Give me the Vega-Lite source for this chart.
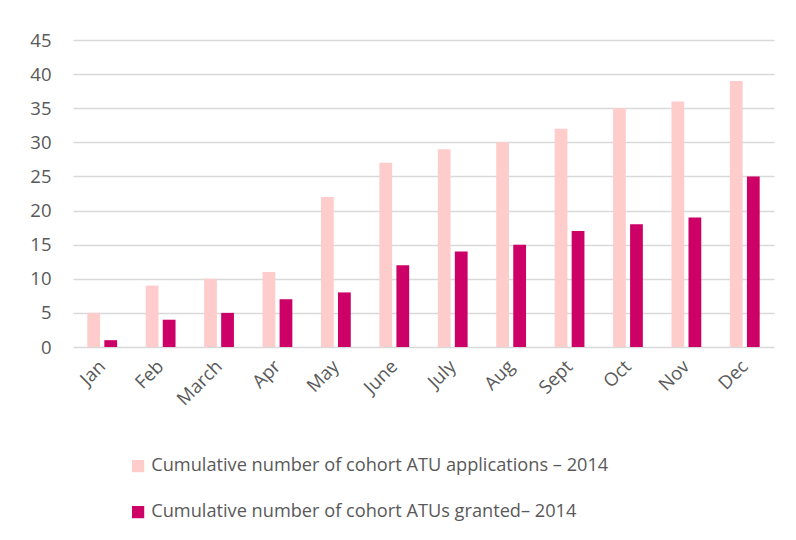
{
  "$schema": "https://vega.github.io/schema/vega-lite/v6.json",
  "width": 701,
  "height": 307,
  "autosize": {"type": "none"},
  "padding": {"left": 73, "top": 40, "right": 22, "bottom": 193},
  "background": "white",
  "config": {
    "view": {"stroke": null},
    "font": "Open Sans",
    "axis": {"labelFont": "Open Sans", "labelColor": "#595959", "labelFontSize": 18.5}
  },
  "data": {
    "values": [
      {"month": "Jan", "series": "Cumulative number of cohort ATU applications – 2014", "value": 5},
      {"month": "Feb", "series": "Cumulative number of cohort ATU applications – 2014", "value": 9},
      {"month": "March", "series": "Cumulative number of cohort ATU applications – 2014", "value": 10},
      {"month": "Apr", "series": "Cumulative number of cohort ATU applications – 2014", "value": 11},
      {"month": "May", "series": "Cumulative number of cohort ATU applications – 2014", "value": 22},
      {"month": "June", "series": "Cumulative number of cohort ATU applications – 2014", "value": 27},
      {"month": "July", "series": "Cumulative number of cohort ATU applications – 2014", "value": 29},
      {"month": "Aug", "series": "Cumulative number of cohort ATU applications – 2014", "value": 30},
      {"month": "Sept", "series": "Cumulative number of cohort ATU applications – 2014", "value": 32},
      {"month": "Oct", "series": "Cumulative number of cohort ATU applications – 2014", "value": 35},
      {"month": "Nov", "series": "Cumulative number of cohort ATU applications – 2014", "value": 36},
      {"month": "Dec", "series": "Cumulative number of cohort ATU applications – 2014", "value": 39},
      {"month": "Jan", "series": "Cumulative number of cohort ATUs granted– 2014", "value": 1},
      {"month": "Feb", "series": "Cumulative number of cohort ATUs granted– 2014", "value": 4},
      {"month": "March", "series": "Cumulative number of cohort ATUs granted– 2014", "value": 5},
      {"month": "Apr", "series": "Cumulative number of cohort ATUs granted– 2014", "value": 7},
      {"month": "May", "series": "Cumulative number of cohort ATUs granted– 2014", "value": 8},
      {"month": "June", "series": "Cumulative number of cohort ATUs granted– 2014", "value": 12},
      {"month": "July", "series": "Cumulative number of cohort ATUs granted– 2014", "value": 14},
      {"month": "Aug", "series": "Cumulative number of cohort ATUs granted– 2014", "value": 15},
      {"month": "Sept", "series": "Cumulative number of cohort ATUs granted– 2014", "value": 17},
      {"month": "Oct", "series": "Cumulative number of cohort ATUs granted– 2014", "value": 18},
      {"month": "Nov", "series": "Cumulative number of cohort ATUs granted– 2014", "value": 19},
      {"month": "Dec", "series": "Cumulative number of cohort ATUs granted– 2014", "value": 25}
    ]
  },
  "mark": {"type": "bar"},
  "encoding": {
    "x": {
      "field": "month",
      "type": "nominal",
      "sort": null,
      "scale": {"paddingInner": 0.49, "paddingOuter": 0.245},
      "axis": {
        "title": null,
        "domain": false,
        "ticks": false,
        "labelAngle": -45,
        "labelAlign": "right",
        "labelBaseline": "middle",
        "labelPadding": 16
      }
    },
    "xOffset": {
      "field": "series",
      "type": "nominal",
      "scale": {"paddingInner": 0.25}
    },
    "y": {
      "field": "value",
      "type": "quantitative",
      "scale": {"domain": [0, 45], "nice": false},
      "axis": {
        "title": null,
        "values": [0, 5, 10, 15, 20, 25, 30, 35, 40, 45],
        "domain": false,
        "ticks": false,
        "labelPadding": 22,
        "gridColor": "#d9d9d9",
        "gridWidth": 1.5
      }
    },
    "color": {
      "field": "series",
      "type": "nominal",
      "scale": {"range": ["#ffcccc", "#cc0066"]},
      "legend": {
        "title": null,
        "orient": "none",
        "legendX": 56,
        "legendY": 417,
        "direction": "vertical",
        "symbolType": "square",
        "symbolSize": 150,
        "symbolStrokeWidth": 0,
        "labelFont": "Open Sans",
        "labelFontSize": 18.2,
        "labelColor": "#595959",
        "labelLimit": 700,
        "rowPadding": 27,
        "labelOffset": 4
      }
    }
  }
}
